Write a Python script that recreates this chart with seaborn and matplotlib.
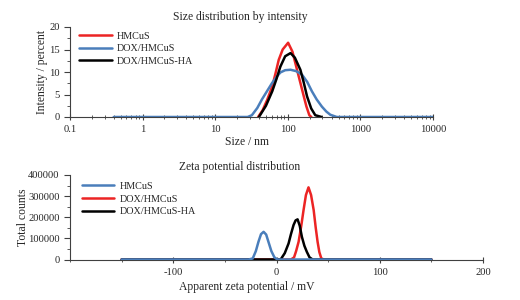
import matplotlib
matplotlib.use("Agg")
import matplotlib.pyplot as plt
from matplotlib.ticker import MultipleLocator, LogLocator, NullFormatter, FuncFormatter
import seaborn as sns
import pandas as pd

# size distribution by intensity (DLS)
size_hmcus = [39, 45, 52, 61, 68, 75, 85, 101, 116, 134, 150, 166, 180, 198, 211]
int_hmcus = [0, 1.5, 3.8, 6.8, 9.8, 12.7, 15.0, 16.5, 14.5, 10.5, 7.4, 4.6, 2.4, 0.4, 0]

size_dox = [0.4, 28, 32, 38, 44, 52, 61, 70, 79, 92, 109, 130, 157, 185, 215, 250, 295, 340, 385, 473, 10000]
int_dox = [0, 0, 0.4, 2.0, 3.9, 5.8, 7.6, 8.9, 9.9, 10.4, 10.5, 10.2, 9.4, 7.8, 5.7, 3.9, 2.3, 1.2, 0.5, 0, 0]

size_ha = [40, 50, 61, 70, 79, 92, 109, 125, 149, 165, 184, 210, 239, 292]
int_ha = [0, 2.5, 5.7, 8.5, 11.2, 13.5, 14.2, 13.2, 10.5, 7.8, 4.6, 1.9, 0.4, 0]

# zeta potential distribution
zeta_hmcus = [-150, -27, -23, -20, -17.5, -15, -12.5, -10, -7.8, -5, -2, 1, 150]
counts_hmcus = [0, 0, 5000, 40000, 83500, 120000, 131000, 118000, 83500, 40000, 10000, 0, 0]

zeta_dox = [-150, 14, 17, 19, 21.4, 24, 26.2, 28.5, 31, 33.5, 36, 38, 39.8, 41.5, 43.4, 46, 150]
counts_dox = [0, 0, 10000, 40000, 83500, 160000, 234000, 305000, 341600, 305000, 234000, 150000,
              83500, 35000, 5000, 0, 0]

zeta_ha = [-150, 4, 8, 11.7, 14, 16.5, 18.5, 20.4, 22.5, 24.6, 27, 29.4, 32, 35, 150]
counts_ha = [0, 0, 30000, 76000, 120000, 163000, 185000, 190000, 160000, 107000, 65000, 36000, 10000, 0, 0]

samples = ["HMCuS", "DOX/HMCuS", "DOX/HMCuS-HA"]

RED = "#ec2424"
BLUE = "#4a7ebb"
BLACK = "#000000"

sns.set_style("ticks")
plt.rcParams["font.family"] = ["Liberation Serif", "DejaVu Serif"]
plt.rcParams["axes.unicode_minus"] = False

size_df = pd.concat([
    pd.DataFrame({"size": size_hmcus, "intensity": int_hmcus, "sample": samples[0]}),
    pd.DataFrame({"size": size_dox, "intensity": int_dox, "sample": samples[1]}),
    pd.DataFrame({"size": size_ha, "intensity": int_ha, "sample": samples[2]}),
])
zeta_df = pd.concat([
    pd.DataFrame({"zeta": zeta_hmcus, "counts": counts_hmcus, "sample": samples[0]}),
    pd.DataFrame({"zeta": zeta_dox, "counts": counts_dox, "sample": samples[1]}),
    pd.DataFrame({"zeta": zeta_ha, "counts": counts_ha, "sample": samples[2]}),
])

fig = plt.figure(figsize=(5.2, 3.0), dpi=100)
ax1 = fig.add_axes([70 / 520, 1 - 117 / 300, 363 / 520, 90 / 300])
ax2 = fig.add_axes([70 / 520, 1 - 259.5 / 300, 413 / 520, 84.5 / 300])

# top panel
sns.lineplot(data=size_df, x="size", y="intensity", hue="sample", hue_order=samples,
             palette=[RED, BLUE, BLACK], sort=False, estimator=None, lw=1.8, ax=ax1)
ax1.set_xscale("log")
ax1.set_xlim(0.1, 10000)
ax1.set_ylim(0, 20)
ax1.xaxis.set_major_locator(LogLocator(base=10))
ax1.xaxis.set_minor_locator(LogLocator(base=10, subs=range(2, 10)))
ax1.xaxis.set_minor_formatter(NullFormatter())
ax1.xaxis.set_major_formatter(FuncFormatter(lambda v, p: f"{v:g}"))
ax1.yaxis.set_major_locator(MultipleLocator(5))
ax1.yaxis.set_minor_locator(MultipleLocator(2.5))
ax1.set_xlabel("Size / nm", fontsize=8.4)
ax1.set_ylabel("Intensity / percent", fontsize=8.4)
ax1.xaxis.set_label_coords((247 - 70) / 363, -0.21)
ax1.yaxis.set_label_coords(-0.06, 0.5)
fig.text(240 / 520, 1 - 17 / 300, "Size distribution by intensity", ha="center", va="center", fontsize=8.4)

h1, l1 = ax1.get_legend_handles_labels()
ax1.legend(h1, l1, loc="upper left", bbox_to_anchor=(0.025, 0.95), frameon=False, fontsize=7.3,
           handlelength=3.2, handletextpad=0.5, labelspacing=0.35, borderpad=0, borderaxespad=0)

# bottom panel
sns.lineplot(data=zeta_df, x="zeta", y="counts", hue="sample", hue_order=samples,
             palette=[BLUE, RED, BLACK], sort=False, estimator=None, lw=1.8, ax=ax2)
ax2.lines[0].set_zorder(4)
ax2.set_xlim(-200, 200)
ax2.set_ylim(0, 400000)
ax2.set_xticks([-100, 0, 100, 200])
ax2.xaxis.set_minor_locator(MultipleLocator(50))
ax2.yaxis.set_major_locator(MultipleLocator(100000))
ax2.yaxis.set_minor_locator(MultipleLocator(50000))
ax2.ticklabel_format(axis="y", style="plain")
ax2.set_xlabel("Apparent zeta potential / mV", fontsize=8.4)
ax2.set_ylabel("Total counts", fontsize=8.4)
ax2.xaxis.set_label_coords((247 - 70) / 413, -0.25)
ax2.yaxis.set_label_coords(-0.10, 0.5)
fig.text(240 / 520, 1 - 167 / 300, "Zeta potential distribution", ha="center", va="center", fontsize=8.4)

h2, l2 = ax2.get_legend_handles_labels()
ax2.legend(h2, l2, loc="upper left", bbox_to_anchor=(0.029, 0.92), frameon=False, fontsize=7.3,
           handlelength=3.2, handletextpad=0.5, labelspacing=0.35, borderpad=0, borderaxespad=0)

for ax in (ax1, ax2):
    sns.despine(ax=ax)
    for s in ("left", "bottom"):
        ax.spines[s].set_color("#404040")
        ax.spines[s].set_linewidth(0.8)
    ax.tick_params(axis="both", which="major", labelsize=7.6, color="#404040", width=0.8)
    ax.tick_params(axis="x", which="major", direction="inout", length=5)
    ax.tick_params(axis="x", which="minor", direction="inout", length=3, color="#404040", width=0.6)
    ax.tick_params(axis="y", which="major", direction="out", length=4)
    ax.tick_params(axis="y", which="minor", direction="out", length=2, color="#404040", width=0.6)

fig.savefig("out.png", dpi=100)
